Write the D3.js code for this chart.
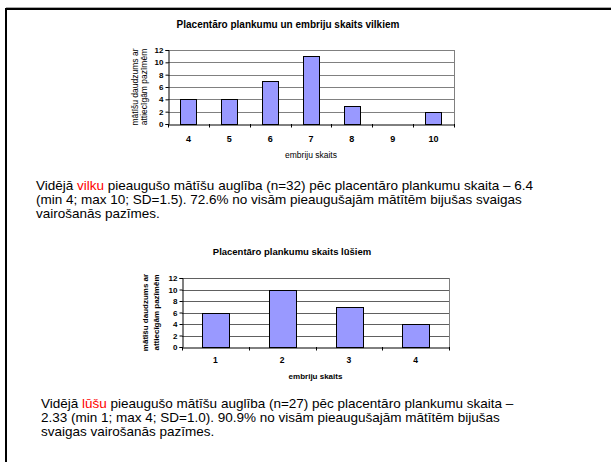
<!DOCTYPE html>
<html><head><meta charset="utf-8">
<script src="https://cdn.jsdelivr.net/npm/d3@7"></script>
<style>
html,body{margin:0;padding:0;background:#fff;}
svg{display:block;font-family:"Liberation Sans",Arial,sans-serif;}
</style></head>
<body>
<svg id="c" width="611" height="462"></svg>
<script>
const wolfCategories = ["4","5","6","7","8","9","10"];
const wolfValues = [4, 4, 7, 11, 3, 0, 2];
const lynxCategories = ["1","2","3","4"];
const lynxValues = [6, 10, 7, 4];
const yTickValues = [0, 2, 4, 6, 8, 10, 12];
const wolfTitle = "Placentāro plankumu un embriju skaits vilkiem";
const lynxTitle = "Placentāro plankumu skaits lūšiem";
const xTitle = "embriju skaits";
const yTitleLines = ["mātīšu daudzums ar", "attiecīgām pazīmēm"];
const para1 = [
  [["Vidējā ", "#000"], ["vilku", "#ff0000"], [" pieaugušo mātīšu auglība (n=32) pēc placentāro plankumu skaita – 6.4", "#000"]],
  [["(min 4; max 10; SD=1.5). 72.6% no visām pieaugušajām mātītēm bijušas svaigas", "#000"]],
  [["vairošanās pazīmes.", "#000"]]
];
const para2 = [
  [["Vidējā ", "#000"], ["lūšu", "#ff0000"], [" pieaugušo mātīšu auglība (n=27) pēc placentāro plankumu skaita –", "#000"]],
  [["2.33 (min 1; max 4; SD=1.0). 90.9% no visām pieaugušajām mātītēm bijušas", "#000"]],
  [["svaigas vairošanās pazīmes.", "#000"]]
];

const svg = d3.select("#c");

// slide frame
svg.append("line").attr("x1", 6).attr("x2", 611).attr("y1", 7.5).attr("y2", 7.5).attr("stroke", "#aaa").attr("stroke-width", 1);
svg.append("path").attr("d", "M6,462 V9 H611").attr("fill", "none").attr("stroke", "#000").attr("stroke-width", 2);

function drawChart(o) {
  const g = svg.append("g");
  const x = d3.scaleBand().domain(o.cats).range([o.left, o.right]).paddingInner(0.6).paddingOuter(0.3);
  const xb = d3.scaleBand().domain(o.cats).range([o.left, o.right]);
  const y = d3.scaleLinear().domain([0, 12]).range([o.bottom, o.top]);

  // gridlines
  g.selectAll(".grid").data(yTickValues.filter(d => d > 0)).join("line")
    .attr("class", "grid")
    .attr("x1", o.left).attr("x2", o.right)
    .attr("y1", d => Math.round(y(d)) + 0.5).attr("y2", d => Math.round(y(d)) + 0.5)
    .attr("stroke", o.gridColor).attr("stroke-width", 1);
  // right border
  g.append("line").attr("x1", o.right + 0.5).attr("x2", o.right + 0.5)
    .attr("y1", y(12)).attr("y2", o.bottom).attr("stroke", "#808080");

  // bars
  const rows = o.vals.map((v, i) => ({c: o.cats[i], v})).filter(d => d.v > 0);
  g.selectAll(".bar").data(rows).join("rect")
    .attr("class", "bar")
    .attr("x", d => Math.round(x(d.c)) + 0.5).attr("width", Math.round(x.bandwidth()))
    .attr("y", d => Math.round(y(d.v)) + 0.5).attr("height", d => Math.round(y(0)) - Math.round(y(d.v)))
    .attr("fill", "#9999ff").attr("stroke", "#000").attr("stroke-width", 1);

  // y axis
  const ya = d3.axisLeft(y).tickValues(yTickValues).tickSize(3).tickPadding(2);
  const yg = g.append("g").attr("transform", `translate(${o.left + 0.5},0)`).call(ya);
  yg.select(".domain").attr("stroke", "#000");
  yg.selectAll("text").attr("font-size", o.yTickFont).attr("font-weight", "bold").attr("fill", "#000")
    .attr("font-family", "Liberation Sans, Arial, sans-serif");

  // x axis with ticks at band boundaries
  const xa = d3.axisBottom(xb).tickSize(0).tickPadding(o.xTickPad);
  const xg = g.append("g").attr("transform", `translate(0,${o.bottom + 0.5})`).call(xa);
  xg.select(".domain").attr("stroke", "#000");
  xg.selectAll("text").attr("font-size", o.xTickFont).attr("font-weight", "bold").attr("fill", "#000")
    .attr("font-family", "Liberation Sans, Arial, sans-serif");
  const bounds = o.cats.map(c => xb(c)).concat([o.right]);
  g.selectAll(".xt").data(bounds).join("line")
    .attr("class", "xt")
    .attr("x1", d => Math.round(d) + 0.5).attr("x2", d => Math.round(d) + 0.5)
    .attr("y1", o.bottom).attr("y2", o.bottom + 3.5).attr("stroke", "#000");

  // titles
  g.append("text").attr("x", o.titleX).attr("y", o.titleY).attr("text-anchor", "middle")
    .attr("font-size", o.titleFont).attr("font-weight", "bold").text(o.title);
  g.append("text").attr("x", (o.left + o.right) / 2).attr("y", o.xTitleY).attr("text-anchor", "middle")
    .attr("font-size", o.axisTitleFont).attr("font-weight", o.axisTitleWeight).text(xTitle);
  const cy = (o.top + o.bottom) / 2;
  yTitleLines.forEach((t, i) => {
    g.append("text").attr("transform", `translate(${o.yTitleX[i]},${cy}) rotate(-90)`)
      .attr("text-anchor", "middle").attr("font-size", o.axisTitleFont)
      .attr("font-weight", o.axisTitleWeight).text(t);
  });
}

drawChart({
  cats: wolfCategories, vals: wolfValues,
  left: 168, right: 454, top: 50, bottom: 124,
  gridColor: "#808080", yTickFont: "8px", xTickFont: "9px", xTickPad: 11,
  title: wolfTitle, titleX: 288, titleY: 28, titleFont: "10px",
  xTitleY: 158, axisTitleFont: "8.5px", axisTitleWeight: "normal",
  yTitleX: [138, 147]
});

drawChart({
  cats: lynxCategories, vals: lynxValues,
  left: 182, right: 449, top: 278, bottom: 347,
  gridColor: "#606060", yTickFont: "8px", xTickFont: "8.5px", xTickPad: 9,
  title: lynxTitle, titleX: 292, titleY: 255, titleFont: "9.5px",
  xTitleY: 379, axisTitleFont: "8px", axisTitleWeight: "bold",
  yTitleX: [148, 159]
});

function para(lines, x, y0, lh) {
  const t = svg.append("text").attr("font-size", "13.5px").attr("fill", "#000");
  lines.forEach((segs, i) => {
    segs.forEach((s, j) => {
      const ts = t.append("tspan").attr("fill", s[1]).text(s[0]);
      if (j === 0) ts.attr("x", x).attr("y", y0 + i * lh);
    });
  });
}
para(para1, 36, 190, 14);
para(para2, 41, 408, 14);
</script>
</body></html>
